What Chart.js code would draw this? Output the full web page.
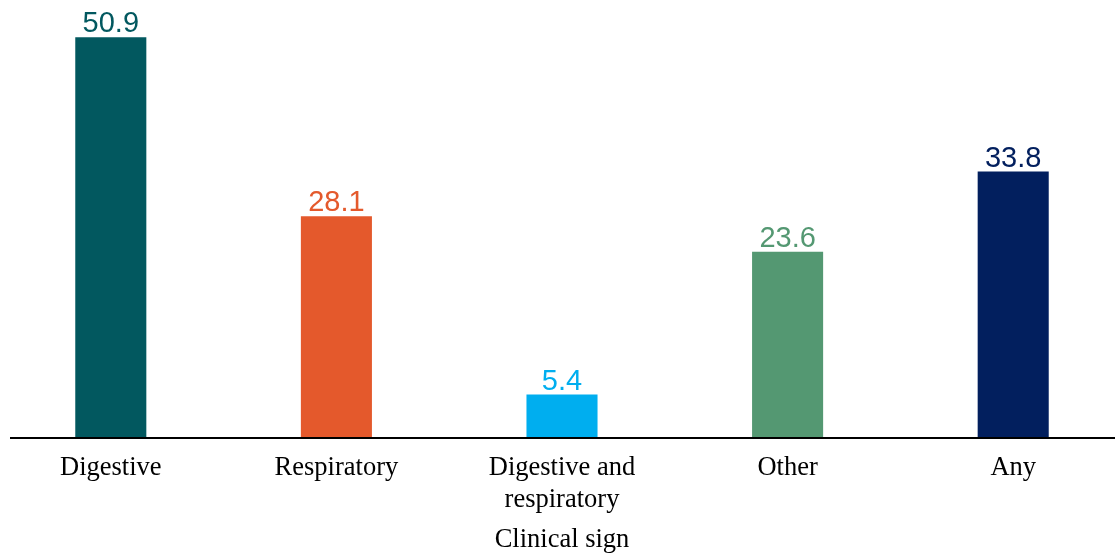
<!DOCTYPE html>
<html>
<head>
<meta charset="utf-8">
<script src="https://cdn.jsdelivr.net/npm/chart.js@4"></script>
<style>
  html, body { margin: 0; padding: 0; background: #fff; overflow: hidden; }
  #wrap { position: absolute; left: -2px; top: 0; width: 1128px; height: 556px; }
</style>
</head>
<body>
<div id="wrap"><canvas id="c" width="1128" height="556"></canvas></div>
<script>
// Share of cases by clinical sign
const categories = ['Digestive', 'Respiratory', ['Digestive and', 'respiratory'], 'Other', 'Any'];
const values = [50.9, 28.1, 5.4, 23.6, 33.8];
const barColors = ['#02585F', '#E4592C', '#00AEEF', '#549872', '#021F5E'];
const axisTitle = 'Clinical sign';

// Value label above each bar, in the bar's colour
const valueLabels = {
  id: 'valueLabels',
  afterDatasetsDraw(chart) {
    const ctx = chart.ctx;
    const meta = chart.getDatasetMeta(0);
    ctx.save();
    ctx.font = '29px "Liberation Sans", Arial, sans-serif';
    ctx.textAlign = 'center';
    ctx.textBaseline = 'alphabetic';
    meta.data.forEach((bar, i) => {
      ctx.fillStyle = barColors[i];
      ctx.fillText(values[i].toFixed(1), bar.x, bar.y - 5);
    });
    ctx.restore();
  }
};

// Horizontal baseline along the category axis
const baseLine = {
  id: 'baseLine',
  afterDatasetsDraw(chart) {
    const ctx = chart.ctx;
    const y = chart.scales.y.getPixelForValue(0) + 1;
    ctx.save();
    ctx.strokeStyle = '#000';
    ctx.lineWidth = 2;
    ctx.beginPath();
    ctx.moveTo(12, y);
    ctx.lineTo(chart.width, y);
    ctx.stroke();
    ctx.restore();
  }
};

new Chart(document.getElementById('c'), {
  type: 'bar',
  data: {
    labels: categories,
    datasets: [{
      data: values,
      backgroundColor: barColors,
      borderWidth: 0,
      barPercentage: 0.315,
      categoryPercentage: 1
    }]
  },
  options: {
    responsive: false,
    animation: false,
    devicePixelRatio: 1,
    layout: { padding: { top: 5, left: 0, right: 0, bottom: 0 } },
    plugins: { legend: { display: false }, tooltip: { enabled: false } },
    scales: {
      y: {
        display: false,
        min: 0,
        max: 55
      },
      x: {
        grid: { display: false, drawTicks: false },
        border: { display: false },
        ticks: {
          color: '#000',
          maxRotation: 0,
          autoSkip: false,
          padding: 15,
          font: { family: '"Liberation Serif", "Times New Roman", serif', size: 26.5, lineHeight: 1.2 }
        },
        title: {
          display: true,
          text: axisTitle,
          color: '#000',
          padding: { top: 0, bottom: 0 },
          font: { family: '"Liberation Serif", "Times New Roman", serif', size: 26.5, lineHeight: 1.2 }
        },
        afterFit(scale) { scale.height = 119; }
      }
    }
  },
  plugins: [valueLabels, baseLine]
});
</script>
</body>
</html>
